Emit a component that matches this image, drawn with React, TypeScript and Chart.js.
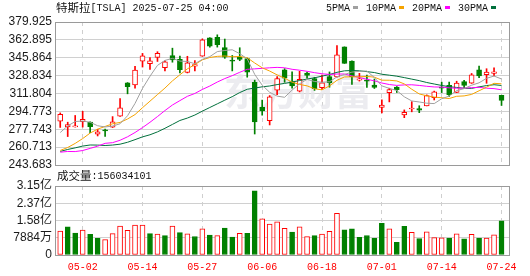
import { useEffect, useRef } from "react";
import { Chart, registerables } from "chart.js";

Chart.register(...registerables);

// ---------- data ----------
const dates = [
  "04-29", "04-30", "05-01", "05-02", "05-05", "05-06", "05-07", "05-08", "05-09", "05-12",
  "05-13", "05-14", "05-15", "05-16", "05-19", "05-20", "05-21", "05-22", "05-23", "05-27",
  "05-28", "05-29", "05-30", "06-02", "06-03", "06-04", "06-05", "06-06", "06-09", "06-10",
  "06-11", "06-12", "06-13", "06-16", "06-17", "06-18", "06-20", "06-23", "06-24", "06-25",
  "06-26", "06-27", "06-30", "07-01", "07-02", "07-03", "07-07", "07-08", "07-09", "07-10",
  "07-11", "07-14", "07-15", "07-16", "07-17", "07-18", "07-21", "07-22", "07-23", "07-24",
];

const opens = [
  285.5, 279.9, 280.01, 284.9, 284.57, 273.11, 276.88, 279.63, 290.21, 321.99,
  320.0, 342.5, 340.34, 346.24, 336.3, 347.87, 344.43, 331.9, 337.92, 347.35,
  364.84, 365.29, 355.52, 343.5, 346.6, 345.1, 322.49, 298.83, 285.96, 314.94,
  334.4, 323.08, 313.97, 331.29, 326.09, 317.31, 327.95, 327.54, 356.17, 342.7,
  324.61, 324.51, 319.9, 298.46, 312.63, 317.99, 291.37, 297.0, 297.55, 300.05,
  307.89, 317.73, 319.68, 312.8, 323.15, 321.66, 334.4, 329.74, 330.9, 310.0,
];
const highs = [
  293.32, 284.45, 290.87, 294.78, 284.85, 277.73, 277.92, 289.8, 307.04, 322.21,
  337.59, 350.0, 346.14, 351.62, 343.0, 354.99, 347.35, 347.27, 343.18, 363.79,
  365.0, 367.71, 363.68, 348.02, 355.4, 345.6, 324.55, 305.5, 309.83, 327.83,
  335.5, 332.56, 332.99, 332.2, 327.26, 329.32, 332.36, 357.54, 356.26, 343.0,
  331.05, 329.34, 325.58, 305.89, 316.83, 318.45, 296.15, 304.05, 300.15, 310.48,
  314.09, 322.6, 322.8, 323.5, 324.34, 330.9, 338.0, 335.41, 336.2, 310.15,
];
const lows = [
  279.47, 270.78, 279.81, 279.81, 274.4, 271.35, 271.0, 279.41, 290.0, 311.5,
  316.8, 337.0, 334.72, 342.33, 333.37, 341.63, 331.39, 331.39, 333.21, 347.32,
  355.91, 356.0, 345.29, 333.33, 343.04, 327.33, 273.21, 291.14, 281.85, 310.67,
  322.5, 316.86, 313.3, 326.41, 314.74, 315.45, 317.78, 327.48, 340.44, 320.4,
  323.61, 317.5, 316.6, 293.21, 303.82, 312.76, 288.77, 294.35, 293.55, 300.0,
  305.65, 312.67, 309.0, 312.62, 317.06, 321.42, 326.88, 321.55, 328.67, 300.41,
];
const closes = [
  292.03, 282.16, 280.52, 287.21, 280.26, 275.35, 276.22, 284.82, 298.26, 318.38,
  334.07, 347.68, 342.82, 349.98, 342.09, 343.82, 334.62, 341.04, 339.34, 362.89,
  356.9, 358.43, 346.46, 342.69, 344.27, 332.05, 284.7, 295.14, 308.58, 326.09,
  326.43, 319.11, 325.31, 329.13, 316.35, 322.05, 322.16, 348.68, 340.47, 327.55,
  325.78, 323.63, 317.66, 300.71, 315.65, 315.35, 293.94, 297.81, 295.88, 309.87,
  313.51, 316.9, 310.78, 321.67, 319.41, 329.65, 328.49, 332.11, 332.56, 305.3,
];
const priorClose = 285.88;

const volumes = [
  108900000, 128960000, 99660000, 114450000, 94920000, 76700000, 70000000, 97540000, 132390000, 112830000,
  136990000, 136640000, 97880000, 95900000, 88870000, 131720000, 102350000, 97010000, 84650000, 120150000,
  91400000, 88550000, 123470000, 81870000, 99320000, 98910000, 292820000, 164750000, 140910000, 151260000,
  122250000, 105130000, 128960000, 83930000, 88280000, 95140000, 108690000, 190720000, 114740000, 119850000,
  80440000, 89070000, 76700000, 145090000, 119480000, 58040000, 131200000, 103240000, 75600000, 105420000,
  79240000, 78940000, 77560000, 97280000, 73920000, 94260000, 77100000, 77370000, 92550000, 156034101,
];

const ma5 = [
  274.62, 280.91, 285.11, 285.56, 284.44, 281.1, 279.91, 280.77, 282.98, 290.61,
  302.35, 316.64, 328.24, 338.59, 343.33, 345.28, 342.67, 342.31, 340.18, 344.34,
  346.96, 351.72, 352.8, 353.47, 349.75, 344.78, 330.03, 319.77, 312.95, 309.31,
  308.19, 315.07, 321.1, 325.21, 323.27, 322.39, 323.0, 327.67, 329.94, 332.18,
  332.93, 333.22, 327.02, 319.07, 316.69, 314.6, 308.66, 304.69, 303.73, 302.57,
  302.2, 306.79, 309.39, 314.55, 316.45, 319.68, 322.0, 326.27, 328.44, 325.62,
];
const ma10 = [
  257.56, 260.37, 264.26, 268.85, 274.12, 277.86, 280.41, 282.94, 284.27, 287.52,
  291.73, 298.28, 304.51, 310.78, 316.97, 323.81, 329.65, 335.28, 339.38, 343.84,
  346.12, 347.19, 347.56, 346.83, 347.05, 345.87, 340.88, 336.29, 333.21, 329.53,
  326.48, 322.55, 320.44, 319.08, 316.29, 315.29, 319.04, 324.39, 327.58, 327.72,
  327.66, 328.11, 327.35, 324.5, 324.43, 323.76, 320.94, 315.86, 311.4, 309.63,
  308.4, 307.73, 307.04, 309.14, 309.51, 310.94, 314.4, 317.83, 321.5, 321.04,
];
const ma20 = [
  255.9, 256.58, 256.47, 257.47, 259.51, 261.61, 264.33, 264.96, 267.25, 270.56,
  274.64, 279.32, 284.39, 289.82, 295.55, 300.84, 305.03, 309.11, 311.83, 315.68,
  318.92, 322.74, 326.03, 328.81, 332.01, 334.84, 335.27, 335.78, 336.3, 336.68,
  336.3, 334.87, 334.0, 332.95, 331.67, 330.58, 329.96, 330.34, 330.39, 328.63,
  327.07, 325.33, 323.89, 321.79, 320.36, 319.53, 319.99, 320.12, 319.49, 318.68,
  318.03, 317.92, 317.19, 316.82, 316.97, 317.35, 317.67, 316.84, 316.45, 315.33,
];
const ma30 = [
  256.62, 258.51, 260.0, 261.7, 262.75, 262.65, 262.25, 262.68, 263.52, 265.34,
  267.84, 270.48, 272.48, 275.24, 278.66, 282.35, 286.1, 288.4, 291.3, 294.98,
  298.47, 301.95, 305.44, 308.82, 312.71, 315.85, 316.98, 318.17, 318.96, 320.3,
  321.44, 322.67, 324.17, 325.56, 326.77, 328.32, 329.86, 331.98, 333.39, 333.7,
  333.42, 332.62, 331.78, 330.14, 329.26, 328.31, 326.95, 325.51, 324.06, 322.29,
  320.85, 319.46, 318.27, 317.57, 316.75, 316.67, 318.12, 319.36, 320.16, 319.46,
];

const priceTicks = [243.683, 260.713, 277.743, 294.773, 311.804, 328.834, 345.864, 362.895, 379.925];
const priceTickLabels = ["243.683", "260.713", "277.743", "294.773", "311.804", "328.834", "345.864", "362.895", "379.925"];
const volumeTicks = [0, 78840000, 157680000, 236520000, 315360000];
const volumeTickLabels = ["0", "7884万", "1.58亿", "2.37亿", "3.15亿"];
const dateTickIndexes = [3, 11, 19, 27, 35, 43, 51, 59];

const titleText = "特斯拉[TSLA] 2025-07-25 04:00";
const volumeLabel = "成交量";
const maNames = ["5PMA", "10PMA", "20PMA", "30PMA"];
const maColors = ["#a0a0a0", "#f5a300", "#ff00ff", "#00703c"];
const watermarkText = "东方财富";

// ---------- styles ----------
const RED = "#ff0000";
const GREEN = "#008000";
const GRID = "#d0d0d0";
const FRAME = "#9a9a9a";
const X_MIN = -0.7;
const X_MAX = 60;
const MONO = '"Liberation Mono", "DejaVu Sans Mono", monospace';
const CJK = '"Noto Sans CJK SC", sans-serif';

function drawMixed(ctx: CanvasRenderingContext2D, text: string, x: number, y: number, color: string) {
  ctx.save();
  ctx.fillStyle = color;
  ctx.textBaseline = "middle";
  ctx.textAlign = "left";
  let cx = x;
  for (const ch of text) {
    const isCjk = /[\u3000-\u9fff\uff00-\uffef]/.test(ch);
    ctx.font = isCjk ? `11.5px ${CJK}` : `10px ${MONO}`;
    ctx.fillText(ch, cx, y);
    cx += ctx.measureText(ch).width;
  }
  ctx.restore();
  return cx;
}

function drawFrame(chart: any) {
  const { ctx, chartArea } = chart;
  const l = Math.round(chartArea.left);
  const t = Math.round(chartArea.top);
  const r = Math.round(chartArea.right);
  const b = Math.round(chartArea.bottom);
  ctx.save();
  ctx.strokeStyle = FRAME;
  ctx.lineWidth = 1;
  ctx.strokeRect(l + 0.5, t + 0.5, r - l, b - t);
  ctx.restore();
}

const priceDecor = {
  id: "priceDecor",
  beforeDatasetsDraw(chart: any) {
    const { ctx } = chart;
    ctx.save();
    ctx.fillStyle = "rgba(228,228,234,0.7)";
    ctx.font = `bold 37px ${CJK}`;
    ctx.textBaseline = "middle";
    ctx.textAlign = "left";
    ctx.fillText(watermarkText, 224, 92);
    ctx.restore();
  },
  afterDraw(chart: any) {
    const { ctx } = chart;
    drawFrame(chart);
    drawMixed(ctx, titleText, 56, 8, "#111");
    // legend: name then colour marker
    let x = 326;
    ctx.save();
    ctx.font = `10px ${MONO}`;
    ctx.textBaseline = "middle";
    maNames.forEach((name, i) => {
      ctx.fillStyle = "#111";
      ctx.fillText(name, x, 8);
      x += ctx.measureText(name).width + 3;
      ctx.fillStyle = maColors[i];
      ctx.fillRect(Math.round(x), 6, 5, 3);
      x += 5 + 8;
    });
    ctx.restore();
  },
};

const volumeDecor = {
  id: "volumeDecor",
  afterDraw(chart: any) {
    drawFrame(chart);
    const last = volumes[volumes.length - 1];
    drawMixed(chart.ctx, `${volumeLabel}:${last}`, 57, 10, "#111");
  },
};

const xScaleBase = (showLabels: boolean) => ({
  type: "linear" as const,
  min: X_MIN,
  max: X_MAX,
  offset: false,
  afterBuildTicks: (s: any) => {
    s.ticks = dateTickIndexes.map((v) => ({ value: v }));
  },
  grid: { color: "#cfcfcf", offset: false, drawTicks: false, lineWidth: 1 },
  border: { display: false, dash: [4, 4] },
  ticks: {
    display: showLabels,
    autoSkip: false,
    maxRotation: 0,
    padding: 6,
    color: RED,
    font: { family: MONO, size: 10 },
    callback: (v: any) => dates[Math.round(Number(v))] ?? "",
  },
  afterFit: (s: any) => {
    s.height = showLabels ? 21 : 0;
    s.paddingLeft = 0;
    s.paddingRight = 0;
  },
});

const isUp = (i: number) => closes[i] >= opens[i];
const volUp = (i: number) => closes[i] >= (i === 0 ? priorClose : closes[i - 1]);

export default function App() {
  const priceRef = useRef<HTMLCanvasElement>(null);
  const volRef = useRef<HTMLCanvasElement>(null);

  useEffect(() => {
    document.body.style.margin = "0";
    const lineSets = [ma5, ma10, ma20, ma30].map((arr, k) => ({
      type: "line" as const,
      label: maNames[k],
      data: arr.map((y, i) => ({ x: i, y })),
      borderColor: maColors[k],
      borderWidth: 1,
      pointRadius: 0,
      tension: 0,
      fill: false,
      order: 0,
    }));

    const priceChart = new Chart(priceRef.current as HTMLCanvasElement, {
      type: "bar",
      data: {
        datasets: [
          ...lineSets,
          {
            type: "bar" as const,
            label: "body",
            data: opens.map((o, i) => ({ x: i, y: [o, closes[i]] })) as any,
            backgroundColor: opens.map((_, i) => (isUp(i) ? "#ffffff" : GREEN)),
            borderColor: opens.map((_, i) => (isUp(i) ? RED : GREEN)),
            borderWidth: 1,
            borderSkipped: false,
            barThickness: 5,
            minBarLength: 1,
            grouped: false,
            order: 1,
          },
          {
            type: "bar" as const,
            label: "wick",
            data: lows.map((l, i) => ({ x: i, y: [l, highs[i]] })) as any,
            backgroundColor: opens.map((_, i) => (isUp(i) ? RED : GREEN)),
            borderWidth: 0,
            barThickness: 1,
            grouped: false,
            order: 2,
          },
        ] as any,
      },
      options: {
        animation: false,
        responsive: false,
        maintainAspectRatio: false,
        layout: { padding: { top: 22, right: 21, bottom: 11, left: 0 } },
        plugins: { legend: { display: false }, tooltip: { enabled: false }, title: { display: false } },
        scales: {
          x: xScaleBase(false) as any,
          y: {
            type: "linear",
            min: priceTicks[0],
            max: priceTicks[priceTicks.length - 1],
            afterBuildTicks: (s: any) => {
              s.ticks = priceTicks.map((v) => ({ value: v }));
            },
            grid: { color: GRID, drawTicks: false },
            border: { display: false },
            ticks: {
              autoSkip: false,
              padding: 3,
              color: "#1a1a1a",
              font: { family: '"Liberation Sans", Arial, sans-serif', size: 12 },
              callback: (_v: any, idx: number) => priceTickLabels[idx],
            },
            afterFit: (s: any) => {
              s.width = 55;
              s.paddingTop = 0;
              s.paddingBottom = 0;
            },
          } as any,
        },
      },
      plugins: [priceDecor],
    });

    const volumeChart = new Chart(volRef.current as HTMLCanvasElement, {
      type: "bar",
      data: {
        datasets: [
          {
            label: "volume",
            data: volumes.map((v, i) => ({ x: i, y: v })) as any,
            backgroundColor: volumes.map((_, i) => (volUp(i) ? "#ffffff" : GREEN)),
            borderColor: volumes.map((_, i) => (volUp(i) ? RED : GREEN)),
            borderWidth: 1,
            borderSkipped: false,
            barThickness: 5,
            grouped: false,
          },
        ],
      },
      options: {
        animation: false,
        responsive: false,
        maintainAspectRatio: false,
        layout: { padding: { top: 20, right: 21, bottom: 0, left: 0 } },
        plugins: { legend: { display: false }, tooltip: { enabled: false } },
        scales: {
          x: xScaleBase(true) as any,
          y: {
            type: "linear",
            min: volumeTicks[0],
            max: volumeTicks[volumeTicks.length - 1],
            afterBuildTicks: (s: any) => {
              s.ticks = volumeTicks.map((v) => ({ value: v }));
            },
            grid: { color: GRID, drawTicks: false },
            border: { display: false },
            ticks: {
              autoSkip: false,
              padding: 3,
              color: "#1a1a1a",
              font: { family: '"Liberation Sans", "Noto Sans CJK SC", Arial, sans-serif', size: 12 },
              callback: (_v: any, idx: number) => volumeTickLabels[idx],
            },
            afterFit: (s: any) => {
              s.width = 55;
              s.paddingTop = 0;
              s.paddingBottom = 0;
            },
          } as any,
        },
      },
      plugins: [volumeDecor],
    });

    return () => {
      priceChart.destroy();
      volumeChart.destroy();
    };
  }, []);

  return (
    <div style={{ position: "absolute", left: 0, top: 0, width: 530, height: 276, background: "#fff" }}>
      <canvas
        ref={priceRef}
        width={530}
        height={176}
        style={{ position: "absolute", left: 0, top: 0, width: 530, height: 176 }}
      />
      <canvas
        ref={volRef}
        width={530}
        height={110}
        style={{ position: "absolute", left: 0, top: 166, width: 530, height: 110 }}
      />
    </div>
  );
}
